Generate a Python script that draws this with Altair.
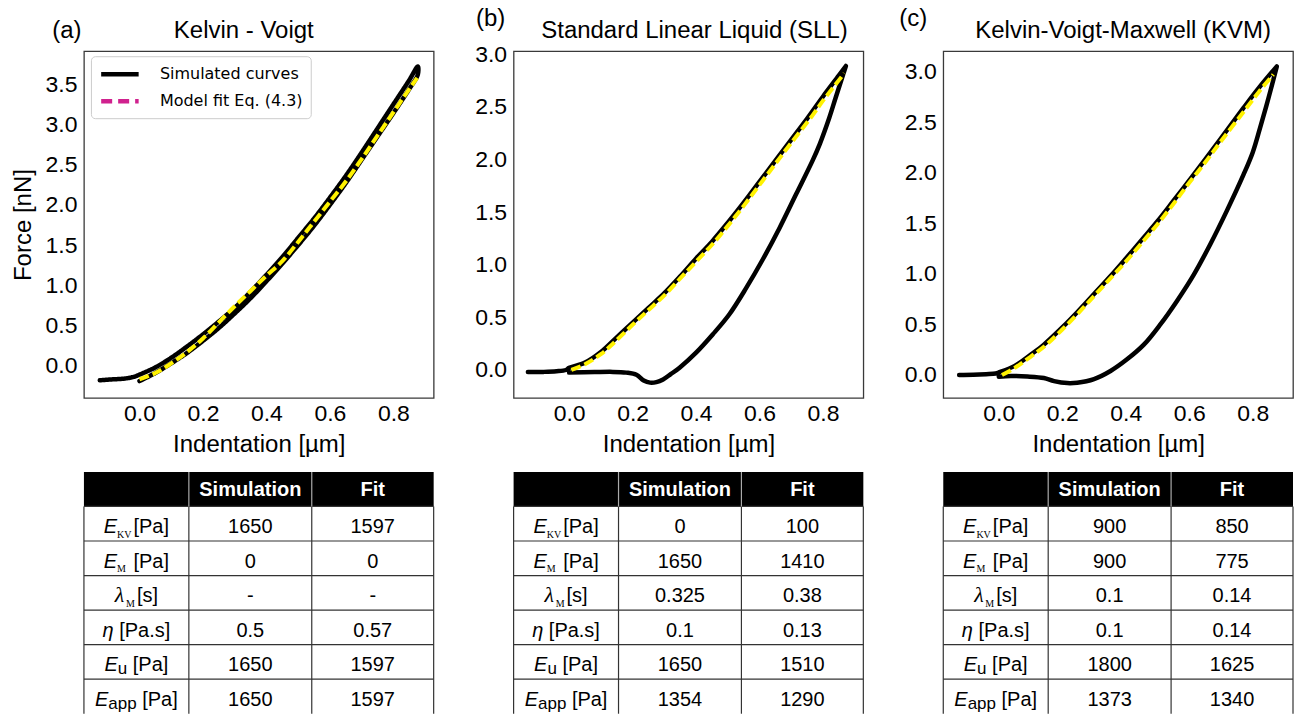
import altair as alt
import pandas as pd

SIM = "Simulated curves"
FIT = "Model fit Eq. (4.3)"

# ---------------- curve data ----------------
# Panel (a) Kelvin - Voigt
a_load_x = [-0.125, -0.09, -0.05, -0.02, 0.0, 0.05, 0.10, 0.15, 0.20, 0.25, 0.30, 0.35, 0.40, 0.45,
            0.50, 0.55, 0.60, 0.65, 0.70, 0.75, 0.80, 0.85, 0.877]
a_load_y = [-0.18, -0.17, -0.16, -0.14, -0.11, -0.02, 0.10, 0.24, 0.39, 0.55, 0.72, 0.92, 1.13, 1.35,
            1.59, 1.83, 2.09, 2.36, 2.65, 2.95, 3.25, 3.55, 3.72]
a_unload_x = [0.877, 0.85, 0.80, 0.75, 0.70, 0.65, 0.60, 0.55, 0.50, 0.45, 0.40, 0.35, 0.30, 0.25,
              0.20, 0.15, 0.10, 0.05, 0.0]
a_unload_y = [3.62, 3.44, 3.14, 2.85, 2.56, 2.27, 2.00, 1.74, 1.50, 1.27, 1.05, 0.84, 0.65, 0.47,
              0.31, 0.16, 0.03, -0.09, -0.19]
a_fit_x = [0.0, 0.05, 0.10, 0.15, 0.20, 0.25, 0.30, 0.35, 0.40, 0.45, 0.50, 0.55, 0.60, 0.65, 0.70,
           0.75, 0.80, 0.85, 0.875]
a_fit_y = [-0.17, -0.09, 0.03, 0.17, 0.34, 0.54, 0.74, 0.93, 1.12, 1.30, 1.54, 1.79, 2.04, 2.29, 2.57,
           2.86, 3.15, 3.44, 3.58]

# Panel (b) Standard Linear Liquid
b_load_x = [-0.13, -0.08, -0.04, -0.01, 0.0, 0.05, 0.10, 0.15, 0.20, 0.25, 0.30, 0.35, 0.40, 0.45,
            0.50, 0.55, 0.60, 0.65, 0.70, 0.75, 0.80, 0.85, 0.872]
b_load_y = [-0.02, -0.018, -0.012, 0.0, 0.02, 0.07, 0.17, 0.31, 0.45, 0.59, 0.73, 0.89, 1.06, 1.22,
            1.40, 1.59, 1.79, 1.99, 2.19, 2.39, 2.60, 2.80, 2.89]
b_unload_x = [0.872, 0.84, 0.82, 0.79, 0.767, 0.715, 0.663, 0.61, 0.558, 0.505, 0.453, 0.40, 0.348,
              0.32, 0.296, 0.275, 0.255, 0.235, 0.212, 0.18, 0.138, 0.08, 0.0]
b_unload_y = [2.89, 2.59, 2.40, 2.15, 1.99, 1.67, 1.35, 1.05, 0.78, 0.53, 0.34, 0.165, 0.022,
              -0.04, -0.09, -0.115, -0.12, -0.10, -0.045, -0.025, -0.018, -0.02, -0.025]
b_fit_x = [0.007, 0.05, 0.10, 0.138, 0.20, 0.25, 0.30, 0.35, 0.40, 0.453, 0.50, 0.55, 0.60, 0.65,
           0.70, 0.767, 0.80, 0.867]
b_fit_y = [0.0, 0.055, 0.15, 0.25, 0.43, 0.57, 0.71, 0.87, 1.03, 1.20, 1.37, 1.56, 1.76, 1.96,
           2.16, 2.42, 2.56, 2.82]

# Panel (c) Kelvin-Voigt-Maxwell
c_load_x = [-0.125, -0.08, -0.04, -0.01, 0.0, 0.05, 0.10, 0.142, 0.20, 0.25, 0.30, 0.35, 0.40, 0.457,
            0.50, 0.55, 0.614, 0.65, 0.70, 0.771, 0.82, 0.876]
c_load_y = [0.0, 0.002, 0.008, 0.015, 0.025, 0.09, 0.20, 0.30, 0.47, 0.63, 0.80, 0.97, 1.15, 1.36,
            1.52, 1.72, 1.98, 2.13, 2.34, 2.64, 2.84, 3.05]
c_unload_x = [0.876, 0.85, 0.823, 0.80, 0.771, 0.718, 0.666, 0.614, 0.561, 0.509, 0.457, 0.404,
              0.352, 0.30, 0.247, 0.216, 0.174, 0.142, 0.09, 0.038, 0.0]
c_unload_y = [3.05, 2.74, 2.44, 2.20, 1.98, 1.62, 1.29, 0.99, 0.73, 0.50, 0.30, 0.155,
              0.04, -0.04, -0.076, -0.08, -0.06, -0.03, -0.015, -0.01, -0.017]
c_fit_x = [0.01, 0.05, 0.10, 0.15, 0.20, 0.25, 0.30, 0.35, 0.40, 0.457, 0.50, 0.55, 0.60, 0.65,
           0.70, 0.771, 0.82, 0.865]
c_fit_y = [0.0, 0.07, 0.18, 0.30, 0.45, 0.61, 0.78, 0.95, 1.12, 1.33, 1.49, 1.69, 1.90, 2.10,
           2.31, 2.60, 2.80, 2.97]

# ---------------- axes ----------------
x_ticks = [0.0, 0.2, 0.4, 0.6, 0.8]
a_yticks = [0.0, 0.5, 1.0, 1.5, 2.0, 2.5, 3.0, 3.5]
bc_yticks = [0.0, 0.5, 1.0, 1.5, 2.0, 2.5, 3.0]
titles = ["Kelvin - Voigt", "Standard Linear Liquid (SLL)", "Kelvin-Voigt-Maxwell (KVM)"]
tags = ["(a)", "(b)", "(c)"]

# ---------------- table data ----------------
header = ["Simulation", "Fit"]
row_sym = ["E", "E", "λ", "η", "E", "E"]
row_sub = ["KV", "M", "M", "", "u", "app"]
row_unit = ["[Pa]", " [Pa]", "[s]", " [Pa.s]", " [Pa]", " [Pa]"]
a_sim = ["1650", "0", "-", "0.5", "1650", "1650"]
a_fit = ["1597", "0", "-", "0.57", "1597", "1597"]
b_sim = ["0", "1650", "0.325", "0.1", "1650", "1354"]
b_fit = ["100", "1410", "0.38", "0.13", "1510", "1290"]
c_sim = ["900", "900", "0.1", "0.1", "1800", "1373"]
c_fit = ["850", "775", "0.14", "0.14", "1625", "1340"]

# ---------------- layout constants ----------------
PW, PH = 350, 347
XDOM = [-0.175, 0.927]
TW, TH = 350, 242
COL_EDGES = [0, 105, 228, 350]
FONT = "Liberation Sans"
MAGENTA = "#d0218e"
YELLOW = "#fff200"
TFS = 20  # table font size


def curve_df(lx, ly, ux, uy):
    xs = list(lx) + list(ux)
    ys = list(ly) + list(uy)
    return pd.DataFrame({"ind": xs, "force": ys, "i": list(range(len(xs))), "series": SIM})


def fit_df(fx, fy):
    return pd.DataFrame({"ind": fx, "force": fy, "i": list(range(len(fx))), "series": FIT})


def plot_panel(sdf, fdf, ydom, yticks, title, tag, tag_pos, title_pos, ytitle, legend):
    x = alt.X("ind:Q", scale=alt.Scale(domain=XDOM, nice=False, zero=False),
              axis=alt.Axis(values=x_ticks, format=".1f", ticks=False, domain=False, grid=False,
                            labelFont=FONT, labelFontSize=23, labelColor="black", labelPadding=5,
                            labelFlush=False, titleFont=FONT, titleFontSize=24,
                            titleFontWeight="normal", titleColor="black", titlePadding=7),
              title="Indentation [µm]")
    yaxis = dict(values=yticks, format=".1f", ticks=False, domain=False, grid=False,
                 labelFont=FONT, labelFontSize=23, labelColor="black", labelPadding=7,
                 labelFlush=False, titleFont=FONT, titleFontSize=24, titleFontWeight="normal",
                 titleColor="black", titlePadding=10)
    y = alt.Y("force:Q", scale=alt.Scale(domain=ydom, nice=False, zero=False),
              axis=alt.Axis(**yaxis), title=ytitle if ytitle else None)
    order = alt.Order("i:Q")
    line_kw = dict(strokeWidth=4.5, strokeCap="round", strokeJoin="round", interpolate="catmull-rom")
    if legend:
        leg = alt.Legend(orient="none", legendX=7, legendY=5, symbolType="M-2.5,0H2.5",
                         symbolSize=225, symbolOffset=11, symbolStrokeWidth=4.5,
                         symbolFillColor="transparent",
                         labelFont="DejaVu Sans", labelFontSize=16, labelColor="black",
                         labelOffset=30, padding=8, strokeColor="#cccccc", fillColor="white",
                         cornerRadius=4, rowPadding=8, labelLimit=400)
        color = alt.Color("series:N", scale=alt.Scale(domain=[SIM, FIT], range=["black", MAGENTA]),
                          legend=leg, title=None)
        dash = alt.StrokeDash("series:N", scale=alt.Scale(domain=[SIM, FIT], range=[[1, 0], [11, 6]]),
                              legend=leg, title=None)
        sim = alt.Chart(sdf).mark_line(**line_kw).encode(
            x=x, y=y, order=order, color=color, strokeDash=dash)
    else:
        sim = alt.Chart(sdf).mark_line(**line_kw).encode(
            x=x, y=y, order=order, color=alt.value("black"))
    fit = alt.Chart(fdf).mark_line(strokeWidth=4, strokeDash=[10, 4], strokeCap="butt",
                                   interpolate="catmull-rom").encode(
        x=x, y=y, order=order, color=alt.value(YELLOW))
    lab = alt.Chart(pd.DataFrame({"t": [tag]})).mark_text(
        font=FONT, fontSize=24, align="center", baseline="middle", color="black").encode(
        text="t:N", x=alt.value(tag_pos[0]), y=alt.value(tag_pos[1]))
    ttl = alt.Chart(pd.DataFrame({"t": [title]})).mark_text(
        font=FONT, fontSize=24, align="center", baseline="middle", color="black").encode(
        text="t:N", x=alt.value(title_pos[0]), y=alt.value(title_pos[1]))
    return alt.layer(sim, fit, lab, ttl).properties(
        width=PW, height=PH,
        view=alt.ViewBackground(stroke="#3a3a3a", strokeWidth=1.3))


CHAR_W = {"E": 0.667, "[": 0.278, "]": 0.278, "P": 0.667, "a": 0.556, "s": 0.5, ".": 0.278,
          " ": 0.278, "u": 0.556, "p": 0.556, "η": 0.556, "λ": 0.56, "K": 0.722, "V": 0.722,
          "M": 0.889}


def tw(s, size):
    return sum(CHAR_W.get(ch, 0.556) for ch in s) * size


def table_panel(sim_vals, fit_vals):
    xs = alt.Scale(domain=[0, TW], nice=False, zero=False)
    ys = alt.Scale(domain=[0, 7], nice=False, zero=False, reverse=True)
    X = lambda f: alt.X(f, scale=xs, axis=None)
    Y = lambda f: alt.Y(f, scale=ys, axis=None)
    c1, c2, c3 = COL_EDGES[1], COL_EDGES[2], COL_EDGES[3]
    head = alt.Chart(pd.DataFrame({"x": [0], "x2": [c3], "y": [0], "y2": [1]})).mark_rect(
        color="black").encode(x=X("x:Q"), x2="x2:Q", y=Y("y:Q"), y2="y2:Q")
    hl = alt.Chart(pd.DataFrame({"x": [0] * 6, "x2": [c3] * 6, "y": [1, 2, 3, 4, 5, 6]})).mark_rule(
        color="#333333", strokeWidth=1.2).encode(x=X("x:Q"), x2="x2:Q", y=Y("y:Q"))
    vl = alt.Chart(pd.DataFrame({"x": [0, c1, c2, c3], "y": [1] * 4, "y2": [7] * 4})).mark_rule(
        color="#333333", strokeWidth=1.2).encode(x=X("x:Q"), y=Y("y:Q"), y2="y2:Q")
    vh = alt.Chart(pd.DataFrame({"x": [c1, c2], "y": [0, 0], "y2": [1, 1]})).mark_rule(
        color="#aaaaaa", strokeWidth=1.2).encode(x=X("x:Q"), y=Y("y:Q"), y2="y2:Q")
    ht = alt.Chart(pd.DataFrame({"x": [(c1 + c2) / 2, (c2 + c3) / 2], "y": [0.5, 0.5],
                                 "t": header})).mark_text(
        font=FONT, fontSize=TFS, fontWeight="bold", color="white", baseline="alphabetic", dy=7).encode(
        x=X("x:Q"), y=Y("y:Q"), text="t:N")
    n = len(sim_vals)
    body = pd.DataFrame({"x": [(c1 + c2) / 2] * n + [(c2 + c3) / 2] * n,
                         "y": [r + 1.5 for r in range(n)] * 2,
                         "t": list(sim_vals) + list(fit_vals)})
    bt = alt.Chart(body).mark_text(font=FONT, fontSize=TFS, color="black", baseline="alphabetic",
                                   dy=9.5).encode(x=X("x:Q"), y=Y("y:Q"), text="t:N")
    # row labels made of three pieces: symbol, subscript, unit
    recs = []
    cx = c1 / 2
    for r, (sym, sub, unit) in enumerate(zip(row_sym, row_sub, row_unit)):
        serif_sub = sub in ("KV", "M")
        w_sym = tw(sym, TFS)
        w_sub = tw(sub, 10 if serif_sub else 17) + (2 if serif_sub else 0)
        w_unit = tw(unit, TFS)
        lead = tw(unit[: len(unit) - len(unit.lstrip())], TFS)
        start = cx - (w_sym + w_sub + w_unit) / 2
        yy = r + 1.5
        recs.append({"x": start, "y": yy, "t": sym, "k": "symserif" if sym == "λ" else "sym"})
        if sub:
            recs.append({"x": start + w_sym, "y": yy, "t": sub, "k": "subserif" if serif_sub else "subsans"})
        recs.append({"x": start + w_sym + w_sub + lead, "y": yy, "t": unit.strip(), "k": "unit"})
    ldf = pd.DataFrame(recs)
    base = alt.Chart(ldf).encode(x=X("x:Q"), y=Y("y:Q"), text="t:N")
    l1 = base.transform_filter(alt.datum.k == "sym").mark_text(
        font=FONT, fontSize=TFS, fontStyle="italic", align="left", baseline="alphabetic", dy=9.5, color="black")
    l2 = base.transform_filter(alt.datum.k == "symserif").mark_text(
        font="Liberation Serif", fontSize=22, fontStyle="italic", align="left", baseline="alphabetic",
        dy=9.5, color="black")
    l3 = base.transform_filter(alt.datum.k == "subserif").mark_text(
        font="Liberation Serif", fontSize=10, align="left", baseline="alphabetic", dy=14, color="black")
    l4 = base.transform_filter(alt.datum.k == "subsans").mark_text(
        font=FONT, fontSize=17, align="left", baseline="alphabetic", dy=12.5, color="black")
    l5 = base.transform_filter(alt.datum.k == "unit").mark_text(
        font=FONT, fontSize=TFS, align="left", baseline="alphabetic", dy=9.5, color="black")
    return alt.layer(head, hl, vl, vh, ht, bt, l1, l2, l3, l4, l5).properties(
        width=TW, height=TH, view=alt.ViewBackground(stroke="transparent"))


pa = plot_panel(curve_df(a_load_x, a_load_y, a_unload_x, a_unload_y), fit_df(a_fit_x, a_fit_y),
                [-0.40, 3.91], a_yticks, titles[0], tags[0], (-17, -20), (160, -20), "Force [nN]", True)
pb = plot_panel(curve_df(b_load_x, b_load_y, b_unload_x, b_unload_y), fit_df(b_fit_x, b_fit_y),
                [-0.266, 3.03], bc_yticks, titles[1], tags[1], (-23, -32), (181, -20), None, False)
pc = plot_panel(curve_df(c_load_x, c_load_y, c_unload_x, c_unload_y), fit_df(c_fit_x, c_fit_y),
                [-0.227, 3.20], bc_yticks, titles[2], tags[2], (-30, -32), (180, -20), None, False)

ta = table_panel(a_sim, a_fit)
tb = table_panel(b_sim, b_fit)
tc = table_panel(c_sim, c_fit)

chart = alt.concat(pa, pb, pc, ta, tb, tc, columns=3,
                   spacing=alt.RowColnumber(row=74, column=80), bounds="flush").resolve_scale(
    x="independent", y="independent", color="independent", strokeDash="independent").properties(
    padding={"left": 10, "top": 6, "right": 0, "bottom": 0}, background="white").configure(
    font=FONT)

chart.save("out.html", embed_options={"renderer": "svg", "actions": False})
